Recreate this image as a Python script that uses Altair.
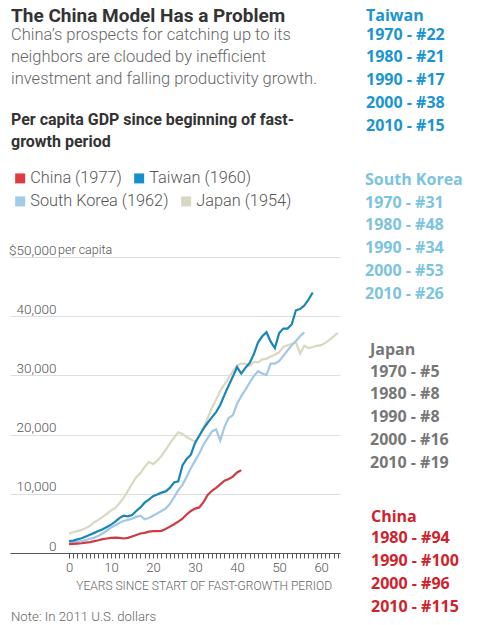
import altair as alt
import pandas as pd

# ---------------- data ----------------
legend_row1 = ["China (1977)", "Taiwan (1960)"]
legend_row1_colors = ["#e03a41", "#1590cc"]
legend_row2 = ["South Korea (1962)", "Japan (1954)"]
legend_row2_colors = ["#a2cbe8", "#d8d8c2"]
line_colors = {"China (1977)": "#cf3a44", "Taiwan (1960)": "#1a85b8",
               "South Korea (1962)": "#a3c8e4", "Japan (1954)": "#d9d8c0"}

china_gdp = [1500, 1550, 1600, 1650, 1750, 1850, 2000, 2150, 2350, 2450, 2550, 2600,
             2550, 2450, 2550, 2800, 3050, 3300, 3400, 3600, 3700, 3700, 3750, 4050,
             4450, 4850, 5300, 5800, 6500, 7100, 7500, 7700, 8600, 9800, 10500, 11000,
             11600, 12200, 12500, 12900, 13600, 14000]
taiwan_gdp = [2000, 2100, 2300, 2500, 2800, 3100, 3400, 3700, 4000, 4400, 4800, 5300,
              5900, 6300, 6200, 6400, 7100, 7700, 8500, 9000, 9600, 9900, 10200, 10400,
              11000, 11900, 12100, 14800, 15900, 16600, 18600, 19800, 21000, 22000, 22900,
              23800, 25000, 26700, 28300, 29800, 31400, 30300, 31300, 32100, 33600, 35600,
              36600, 37300, 35700, 34600, 37100, 37900, 37900, 38600, 41000, 41200, 41800,
              42800, 44000]
korea_gdp = [1700, 1800, 1900, 2000, 2200, 2400, 2600, 2900, 3300, 3800, 4300, 4700,
             5100, 5400, 5600, 5800, 6100, 6300, 5700, 5900, 6300, 6700, 7100, 7500,
             8300, 9400, 10600, 11500, 12900, 14300, 15600, 16800, 18300, 19400, 20500,
             20900, 19000, 21300, 22800, 23300, 25200, 26500, 27600, 28800, 29900, 30700,
             30300, 30100, 32000, 32000, 32400, 33300, 34200, 35100, 35800, 36600, 37300]
japan_gdp = [3300, 3500, 3700, 3900, 4200, 4600, 5200, 5600, 6100, 6600, 7200, 7600,
             8400, 9300, 10500, 11700, 12800, 13500, 14500, 15400, 15000, 15600, 16400,
             17400, 18500, 19500, 20400, 20100, 19600, 19200, 18800, 19700, 21200, 22800,
             24500, 25900, 27400, 28500, 29600, 30700, 31700, 32000, 32000, 31600, 32300,
             32200, 32700, 32800, 33200, 33500, 33900, 34800, 35100, 35300, 35600, 33700,
             35000, 34600, 34800, 35000, 35100, 35500, 36000, 36600, 37200]

y_ticks = [0, 10000, 20000, 30000, 40000, 50000]
x_ticks = list(range(0, 65))

title_text = "The China Model Has a Problem"
subtitle_lines = ["China\u2019s prospects for catching up to its",
                  "neighbors are clouded by inefficient",
                  "investment and falling productivity growth."]
heading_lines = ["Per capita GDP since beginning of fast-", "growth period"]
x_title = "YEARS SINCE START OF FAST-GROWTH PERIOD"
note_text = "Note: In 2011 U.S. dollars"

taiwan_ranks = [("1970", "#22"), ("1980", "#21"), ("1990", "#17"), ("2000", "#38"), ("2010", "#15")]
korea_ranks = [("1970", "#31"), ("1980", "#48"), ("1990", "#34"), ("2000", "#53"), ("2010", "#26")]
japan_ranks = [("1970", "#5"), ("1980", "#8"), ("1990", "#8"), ("2000", "#16"), ("2010", "#19")]
china_ranks = [("1980", "#94"), ("1990", "#100"), ("2000", "#96"), ("2010", "#115")]

# ---------------- build tables ----------------
draw_order = [("Japan (1954)", japan_gdp), ("South Korea (1962)", korea_gdp),
              ("China (1977)", china_gdp), ("Taiwan (1960)", taiwan_gdp)]
one = pd.DataFrame({"k": [0]})

FONT = "Roboto"

x_enc = alt.X("year:Q",
              scale=alt.Scale(domain=[-14.05, 64.5], nice=False, zero=False),
              axis=alt.Axis(values=x_ticks, title=None, grid=False,
                            labelExpr="datum.value % 10 == 0 ? datum.label : ''",
                            tickSize=5, tickColor="#555", domainColor="#555",
                            labelFont=FONT, labelFontWeight=300, labelFontSize=13,
                            labelColor="#555",
                            labelPadding=3, labelFlush=False, labelOverlap=False))
y_enc = alt.Y("gdp:Q",
              scale=alt.Scale(domain=[0, 50000], nice=False),
              axis=alt.Axis(values=y_ticks, title=None, grid=True, gridColor="#dedede",
                            domain=False, ticks=False, labelAlign="right",
                            labelPadding=-46, labelBaseline="alphabetic", labelOffset=-3,
                            labelExpr="datum.value == 50000 ? '$50,000' : datum.label",
                            labelFont=FONT, labelFontWeight=300, labelFontSize=13.5,
                            labelColor="#555"))

line_layers = []
for name, vals in draw_order:
    d = pd.DataFrame({"year": list(range(len(vals))), "gdp": vals})
    line_layers.append(
        alt.Chart(d).mark_line(strokeWidth=2.2, color=line_colors[name]).encode(x=x_enc, y=y_enc)
    )


def legend_props(y):
    return dict(orient="none", legendX=2, legendY=y, direction="horizontal",
                symbolType="square", symbolSize=100, symbolStrokeWidth=0,
                symbolOpacity=1, labelFont=FONT, labelFontWeight=300,
                labelFontSize=16.3, labelColor="#555", labelOffset=2,
                columnPadding=9, title=None)


legend_a = alt.Chart(pd.DataFrame({"series": legend_row1})).transform_filter(
    "false").mark_square(opacity=1, filled=True).encode(
    x=alt.value(0), y=alt.value(0),
    color=alt.Color("series:N",
                    scale=alt.Scale(domain=legend_row1, range=legend_row1_colors),
                    legend=alt.Legend(**legend_props(-87))),
)
legend_b = alt.Chart(pd.DataFrame({"series": legend_row2})).transform_filter(
    "false").mark_square(opacity=1, filled=True).encode(
    x=alt.value(0), y=alt.value(0),
    fill=alt.Fill("series:N",
                  scale=alt.Scale(domain=legend_row2, range=legend_row2_colors),
                  legend=alt.Legend(**legend_props(-64))),
)


def txt(text, x, y, size, color, weight="normal", font=FONT, align="left", lh=None):
    kw = dict(text=text, align=align, baseline="alphabetic", font=font, fontSize=size,
              color=color, fontWeight=weight)
    if lh is not None:
        kw["lineHeight"] = lh
    return alt.Chart(one).mark_text(**kw).encode(x=alt.value(x), y=alt.value(y))


def rank_lines(ranks):
    return [f"{yr} - {r}" for yr, r in ranks]


RF = "Open Sans"
texts = [
    txt(title_text, 1, -235, 19, "#333", weight="bold"),
    txt(subtitle_lines, 1, -217, 16.5, "#666", weight=300, lh=22),
    txt(heading_lines, 1, -132, 16, "#333", weight="bold", lh=22),
    txt("per capita", 48, -3, 12.5, "#555", weight=300),
    txt(x_title, 322, 333, 12, "#666", weight=300, align="right"),
    txt(note_text, 1, 364, 13.2, "#666", weight=300),
    txt("Taiwan", 356, -236, 16, "#1a95d2", weight="bold", font=RF),
    txt(rank_lines(taiwan_ranks), 356, -217.5, 16, "#1a95d2", weight="bold", font=RF, lh=22.8),
    txt("South Korea", 355, -72, 16, "#7cc3de", weight="bold", font=RF),
    txt(rank_lines(korea_ranks), 355, -49.5, 16, "#7cc3de", weight="bold", font=RF, lh=22.8),
    txt("Japan", 360, 98, 16, "#777777", weight="bold", font=RF),
    txt(rank_lines(japan_ranks), 360, 119.7, 16, "#777777", weight="bold", font=RF, lh=22.8),
    txt("China", 361, 264.7, 16, "#d0222c", weight="bold", font=RF),
    txt(rank_lines(china_ranks), 361, 286.3, 16, "#d0222c", weight="bold", font=RF, lh=23),
]

chart = alt.layer(*line_layers, legend_a, legend_b, *texts).properties(
    width=330, height=296,
    autosize=alt.AutoSizeParams(type="none"),
    padding={"left": 2, "top": 249, "right": 135, "bottom": 72},
    background="white",
).configure_view(strokeOpacity=0)

chart.save("out.html", embed_options={"renderer": "svg", "actions": False})
